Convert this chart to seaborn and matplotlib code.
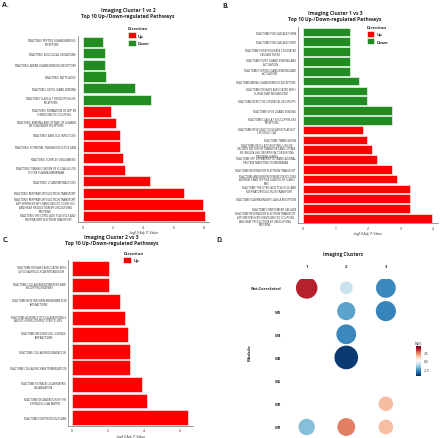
#!/usr/bin/env python3
"""Pathway bar charts for three imaging-cluster comparisons plus a module NES dot plot."""

import textwrap

import matplotlib as mpl
import matplotlib.pyplot as plt
import pandas as pd
import seaborn as sns


PALETTE = {"Up": "#ff0000", "Down": "#228b22"}
FONT = ["Open Sans", "DejaVu Sans"]

# ---- panel A: cluster 1 vs 2 ----
a_pathways = [
    "REACTOME PEPTIDE LIGAND BINDING RECEPTORS",
    "REACTOME BIOLOGICAL OXIDATIONS",
    "REACTOME AMINE LIGAND BINDING RECEPTORS",
    "REACTOME FATTY ACIDS",
    "REACTOME GPCR LIGAND BINDING",
    "REACTOME CLASS A 1 RHODOPSIN LIKE RECEPTORS",
    "REACTOME FORMATION OF ATP BY CHEMIOSMOTIC COUPLING",
    "REACTOME BINDING AND UPTAKE OF LIGANDS BY SCAVENGER RECEPTORS",
    "REACTOME SARS COV INFECTIONS",
    "REACTOME POTENTIAL THERAPEUTICS FOR SARS",
    "REACTOME COMPLEX I BIOGENESIS",
    "REACTOME TRANSLOCATION OF SLC2A4 GLUT4 TO THE PLASMA MEMBRANE",
    "REACTOME L1CAM INTERACTIONS",
    "REACTOME RESPIRATORY ELECTRON TRANSPORT",
    "REACTOME RESPIRATORY ELECTRON TRANSPORT ATP SYNTHESIS BY CHEMIOSMOTIC "
    "COUPLING AND HEAT PRODUCTION BY UNCOUPLING PROTEINS",
    "REACTOME THE CITRIC ACID TCA CYCLE AND RESPIRATORY ELECTRON TRANSPORT",
]
a_values = [1.33, 1.48, 1.48, 1.56, 3.44, 4.48, 1.85, 2.16, 2.45, 2.45,
            2.67, 2.76, 4.46, 6.69, 7.93, 8.06]
a_direction = ["Down", "Down", "Down", "Down", "Down", "Down", "Up", "Up", "Up", "Up",
               "Up", "Up", "Up", "Up", "Up", "Up"]

# ---- panel B: cluster 1 vs 3 ----
b_pathways = [
    "REACTOME PI3K CASCADE FGFR4",
    "REACTOME PI3K CASCADE FGFR1",
    "REACTOME PHOSPHOLIPASE C MEDIATED CASCADE FGFR4",
    "REACTOME FGFR1 LIGAND BINDING AND ACTIVATION",
    "REACTOME FGFR1B LIGAND BINDING AND ACTIVATION",
    "REACTOME AMINE LIGAND BINDING RECEPTORS",
    "REACTOME DISEASES ASSOCIATED WITH SURFACTANT METABOLISM",
    "REACTOME DEFECTIVE CSF2RB CAUSES SMDP5",
    "REACTOME GPCR LIGAND BINDING",
    "REACTOME CLASS A 1 RHODOPSIN LIKE RECEPTORS",
    "REACTOME RESPONSE TO ELEVATED PLATELET CYTOSOLIC CA2",
    "REACTOME TRANSLATION",
    "REACTOME REGULATION OF INSULIN LIKE GROWTH FACTOR IGF TRANSPORT AND UPTAKE "
    "BY INSULIN LIKE GROWTH FACTOR BINDING PROTEINS IGFBPS",
    "REACTOME SRP DEPENDENT COTRANSLATIONAL PROTEIN TARGETING TO MEMBRANE",
    "REACTOME RESPIRATORY ELECTRON TRANSPORT",
    "REACTOME ANTIGEN PRESENTATION FOLDING ASSEMBLY AND PEPTIDE LOADING OF CLASS I MHC",
    "REACTOME THE CITRIC ACID TCA CYCLE AND RESPIRATORY ELECTRON TRANSPORT",
    "REACTOME SCAVENGING BY CLASS A RECEPTORS",
    "REACTOME COMPLEMENT CASCADE",
    "REACTOME RESPIRATORY ELECTRON TRANSPORT ATP SYNTHESIS BY CHEMIOSMOTIC "
    "COUPLING AND HEAT PRODUCTION BY UNCOUPLING PROTEINS",
]
b_values = [1.43, 1.43, 1.43, 1.43, 1.43, 1.73, 1.96, 1.96, 2.72, 2.72,
            1.85, 1.97, 2.13, 2.28, 2.73, 2.90, 3.30, 3.30, 3.30, 3.97]
b_direction = ["Down", "Down", "Down", "Down", "Down", "Down", "Down", "Down", "Down", "Down",
               "Up", "Up", "Up", "Up", "Up", "Up", "Up", "Up", "Up", "Up"]

# ---- panel C: cluster 2 vs 3 ----
c_pathways = [
    "REACTOME DISEASES ASSOCIATED WITH GLYCOSAMINOGLYCAN METABOLISM",
    "REACTOME COLLAGEN BIOSYNTHESIS AND MODIFYING ENZYMES",
    "REACTOME NON INTEGRIN MEMBRANE ECM INTERACTIONS",
    "REACTOME ASSEMBLY OF COLLAGEN FIBRILS AND OTHER MULTIMERIC STRUCTURES",
    "REACTOME INTEGRIN CELL SURFACE INTERACTIONS",
    "REACTOME COLLAGEN DEGRADATION",
    "REACTOME COLLAGEN CHAIN TRIMERIZATION",
    "REACTOME EXTRACELLULAR MATRIX ORGANIZATION",
    "REACTOME DEGRADATION OF THE EXTRACELLULAR MATRIX",
    "REACTOME ECM PROTEOGLYCANS",
]
c_values = [2.05, 2.05, 2.70, 2.98, 3.11, 3.22, 3.22, 3.90, 4.18, 6.48]
c_direction = ["Up", "Up", "Up", "Up", "Up", "Up", "Up", "Up", "Up", "Up"]

# ---- panel D: module enrichment by imaging cluster ----
d_modules = ["Not.Correlated", "M6", "M4", "M3", "M5", "M2", "M1"]
d_point_module = ["Not.Correlated", "Not.Correlated", "Not.Correlated", "M6", "M6",
                  "M4", "M3", "M2", "M1", "M1", "M1"]
d_point_cluster = [1, 2, 3, 2, 3, 2, 2, 3, 1, 2, 3]
d_point_nes = [3.5, -1.0, -2.9, -2.4, -3.0, -2.9, -4.3, 1.4, -1.9, 2.3, 1.4]
d_cluster_labels = ["1", "2", "3"]


def bar_panel(ax, pathways, values, direction, xlim, xticks, legend_anchor,
              label_fs=2.0, spacing=0.95):
    df = pd.DataFrame({
        "Pathway": [textwrap.fill(p, 40) for p in pathways],
        "Value": values,
        "Direction": direction,
    })
    hue_order = [d for d in ["Up", "Down"] if d in direction]
    sns.barplot(data=df, x="Value", y="Pathway", hue="Direction", hue_order=hue_order,
                palette=PALETTE, dodge=False, width=0.88, saturation=1,
                edgecolor="white", linewidth=0.4, ax=ax)
    ax.set_xlim(*xlim)
    ax.set_xticks(xticks)
    ax.set_ylabel("")
    ax.set_xlabel("-log10 Adj. P-Value", fontsize=2.4, labelpad=1)
    ax.tick_params(axis="y", labelsize=label_fs, length=0, pad=1.5)
    ax.tick_params(axis="x", labelsize=2.4, length=1, width=0.3, pad=0.8)
    for lab in ax.get_yticklabels():
        lab.set_multialignment("center")
        lab.set_linespacing(spacing)
    sns.despine(ax=ax)
    for side in ("left", "bottom"):
        ax.spines[side].set_color("#8c8c8c")
        ax.spines[side].set_linewidth(0.6)
    leg = ax.legend(title="Direction", loc="upper left", bbox_to_anchor=legend_anchor,
                    frameon=False, fontsize=3, title_fontsize=3.2, handlelength=1.8,
                    handleheight=1.8, labelspacing=0.45, handletextpad=0.6,
                    borderaxespad=0, alignment="left")
    leg.get_title().set_fontweight("bold")
    for t in leg.get_texts():
        t.set_fontweight("bold")


def dot_panel(ax, fig):
    ypos = {m: i for i, m in enumerate(d_modules)}
    df = pd.DataFrame({
        "Cluster": d_point_cluster,
        "Row": [ypos[m] for m in d_point_module],
        "NES": d_point_nes,
    })
    df["Size"] = df["NES"].abs()
    norm = mpl.colors.Normalize(-4.5, 4.5)
    sns.scatterplot(data=df, x="Cluster", y="Row", hue="NES", size="Size",
                    palette="RdBu_r", hue_norm=norm, sizes=(85, 290), size_norm=(1.0, 4.3),
                    linewidth=0, legend=False, ax=ax)
    ax.set_xlim(0.5, 3.5)
    ax.set_ylim(len(d_modules) - 0.6, -0.4)
    ax.set_xticks([1, 2, 3], d_cluster_labels)
    ax.set_yticks(range(len(d_modules)), d_modules)
    ax.xaxis.tick_top()
    ax.tick_params(axis="x", length=0, pad=8, labelsize=3)
    ax.tick_params(axis="y", length=0, pad=4, labelsize=3)
    for lab in ax.get_xticklabels() + ax.get_yticklabels():
        lab.set_fontweight("bold")
    ax.set_xlabel("")
    ax.set_ylabel("Module", fontsize=3.2, fontweight="bold")
    ax.yaxis.set_label_coords(-0.30, 0.54)
    for sp in ax.spines.values():
        sp.set_visible(False)
    ax.grid(False)

    cax = fig.add_axes([0.945, 0.142, 0.012, 0.068])
    sm = mpl.cm.ScalarMappable(norm=norm, cmap="RdBu_r")
    cb = fig.colorbar(sm, cax=cax, ticks=[-2.5, 0.0, 2.5])
    cb.ax.set_yticklabels(["-2.5", "0.0", "2.5"])
    cb.ax.tick_params(labelsize=2.4, length=1, width=0.3, pad=1, color="white")
    cb.outline.set_visible(False)
    cb.ax.set_title("NES", fontsize=2.8, pad=1.5)


def main():
    sns.set_style("ticks")
    plt.rcParams["font.family"] = FONT

    fig = plt.figure(figsize=(4.4, 4.39), dpi=100)

    ax_a = fig.add_axes([0.177, 0.492, 0.298, 0.424])
    ax_b = fig.add_axes([0.677, 0.489, 0.318, 0.447])
    ax_c = fig.add_axes([0.155, 0.028, 0.283, 0.377])
    ax_d = fig.add_axes([0.652, 0.004, 0.27, 0.359])

    bar_panel(ax_a, a_pathways, a_values, a_direction, (-0.33, 8.34), [0, 2, 4, 6, 8], (0.37, 1.06))
    bar_panel(ax_b, b_pathways, b_values, b_direction, (-0.16, 4.14), [0, 1, 2, 3, 4], (0.48, 1.02),
              label_fs=1.9, spacing=0.88)
    bar_panel(ax_c, c_pathways, c_values, c_direction, (-0.2, 6.72), [0, 2, 4, 6], (0.43, 1.065),
              label_fs=1.9)
    dot_panel(ax_d, fig)

    title_kw = dict(ha="center", va="center", fontsize=3.6, fontweight="bold", linespacing=1.3)
    fig.text(0.291, 0.970, "Imaging Cluster 1 vs 2\nTop 10 Up-/Down-regulated Pathways", **title_kw)
    fig.text(0.761, 0.963, "Imaging Cluster 1 vs 3\nTop 10 Up-/Down-regulated Pathways", **title_kw)
    fig.text(0.254, 0.453, "Imaging Cluster 2 vs 3\nTop 10 Up-/Down-regulated Pathways", **title_kw)
    fig.text(0.779, 0.420, "Imaging Clusters", ha="center", va="center", fontsize=3.4,
             fontweight="bold")

    label_kw = dict(ha="left", va="center", fontsize=5, fontweight="bold")
    fig.text(0.004, 0.988, "A.", **label_kw)
    fig.text(0.505, 0.985, "B.", **label_kw)
    fig.text(0.006, 0.453, "C.", **label_kw)
    fig.text(0.492, 0.453, "D.", **label_kw)

    fig.savefig("out.png", dpi=100)


if __name__ == "__main__":
    main()
